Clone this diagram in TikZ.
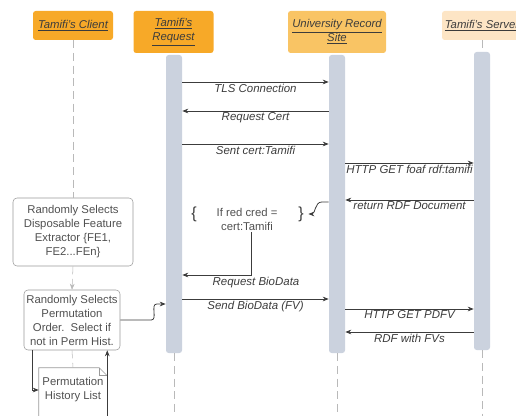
\documentclass[tikz,border=0pt]{standalone}
\usepackage{fontspec}
\setmainfont{Liberation Sans}
\usetikzlibrary{arrows.meta,positioning,calc}
\definecolor{headcolor}{RGB}{247,169,40}
\definecolor{sitecolor}{RGB}{249,196,100}
\definecolor{servercolor}{RGB}{253,229,197}
\definecolor{barcolor}{RGB}{203,210,222}
\definecolor{inkcolor}{RGB}{60,60,60}

\begin{document}
\begin{tikzpicture}[x=0.75pt, y=-0.75pt,
    actor/.style={rectangle, rounded corners=2pt, minimum width=60pt, minimum height=21.75pt, align=center, fill=headcolor, text=inkcolor, inner sep=1pt, font=\fontsize{8.5}{10.5}\selectfont\itshape},
    bar/.style={rectangle, rounded corners=2pt, fill=barcolor, minimum width=12pt, minimum height=223.5pt, inner sep=0pt},
    box/.style={rectangle, draw=gray!80, rounded corners=3pt, align=center, text=inkcolor!90, inner sep=1pt, font=\fontsize{8.5}{10.5}\selectfont},
    life/.style={draw=gray!55, dash pattern=on 6pt off 3.5pt},
    msg/.style={draw=inkcolor, line width=0.6pt, -{Stealth[length=4.5pt,width=3.5pt]}},
    lbl/.style={text=inkcolor, inner sep=1pt, font=\fontsize{8.6}{10}\selectfont\itshape},
]
    \clip (0,0) rectangle (516,416);
    \coordinate (bottom) at (0,430);

    % Lifeline heads
    \node[actor] (client) at (73,25.5) {\underline{Tamifi's Client}};
    \node[actor, minimum height=31.5pt] (request) at (173.5,32) {\underline{Tamifi's}\\\underline{Request}};
    \node[actor, fill=sitecolor, minimum width=73.5pt, minimum height=31.5pt] (site) at (337,32) {\underline{University Record}\\\underline{Site}};
    \node[actor, fill=servercolor] (server) at (482,25.5) {\underline{Tamifi's Server}};

    % Activation bars
    \node[bar] (reqbar) at (174,204) {};
    \node[bar] (sitebar) at (337,204) {};
    \node[bar] (srvbar) at (482,201) {};

    % Client side
    \node[box, minimum width=90pt, minimum height=51pt] (feat) at (73,232) {Randomly Selects\\Disposable Feature\\Extractor \{FE1,\\FE2...FEn\}};
    \node[box, minimum width=72pt, minimum height=45pt] (perm) at (72,320) {Randomly Selects\\Permutation\\Order.\ \ Select if\\not in Perm Hist.};
    \node[text=inkcolor!90, align=center, inner sep=1pt, minimum width=51pt, minimum height=33pt, font=\fontsize{8.5}{10.5}\selectfont] (hist) at (73,390) {Permutation\\History List};
    \draw[gray!80] (hist.north west) -- ($(hist.north east)+(-8,0)$) -- ($(hist.north east)+(0,8)$) -- (hist.east |- bottom) -- (hist.west |- bottom) -- cycle;
    \draw[gray!80] ($(hist.north east)+(-8,0)$) |- ($(hist.north east)+(0,8)$);

    % Dashed lifelines
    \draw[life] (client.south) -- (feat.north);
    \draw[life, -{Stealth[length=4.5pt,width=3.5pt]}] (feat.south) -- (perm.north);
    \draw[life] (perm.south) -- (hist.north);
    \draw[life] (server.south) -- (srvbar.north);
    \foreach \b in {reqbar, sitebar, srvbar} {
        \draw[life] (\b.south) -- (\b.south |- bottom);
    }

    % Messages
    \foreach \y/\a/\z/\t in {82/reqbar.east/sitebar.west/TLS Connection,
                             111/sitebar.west/reqbar.east/Request Cert,
                             144/reqbar.east/sitebar.west/Sent cert:Tamifi,
                             163/sitebar.east/srvbar.west/HTTP GET foaf rdf:tamifi,
                             200/srvbar.west/sitebar.east/return RDF Document,
                             299/reqbar.east/sitebar.west/Send BioData (FV),
                             309/sitebar.east/srvbar.west/HTTP GET PDFV,
                             332/srvbar.west/sitebar.east/RDF with FVs} {
        \draw[msg] (\a |- 0,\y) -- (\z |- 0,\y) node[lbl, midway, below] {\t};
    }

    % Credential check
    \node[font=\fontsize{12}{12}\selectfont, text=inkcolor] (lbrace) at (194,214) {\{};
    \node[font=\fontsize{8.5}{10.5}\selectfont, text=inkcolor!90, align=center, inner sep=1pt] (cond) at (247,219) {If red cred =\\cert:Tamifi};
    \node[font=\fontsize{12}{12}\selectfont, text=inkcolor] (rbrace) at (301,214) {\}};
    \draw[msg] (sitebar.west |- 0,202) -- ++(-7,0) to[out=180,in=0] (rbrace.east);
    \draw[msg] ([xshift=3pt]cond.south) |- (reqbar.east |- 0,275);
    \node[lbl] (reqbio) at (256,283) {Request BioData};

    % Permutation to request
    \draw[msg] (perm.east) -- ++(31,0) to[out=0,in=180] ($(reqbar.west |- 0,304)+(-9,0)$) -- (reqbar.west |- 0,304);
    \draw[msg] (perm.south -| 32,0) |- (hist.west);
    \draw[msg] (hist.east |- bottom) -- (hist.east |- perm.south);
\end{tikzpicture}
\end{document}
